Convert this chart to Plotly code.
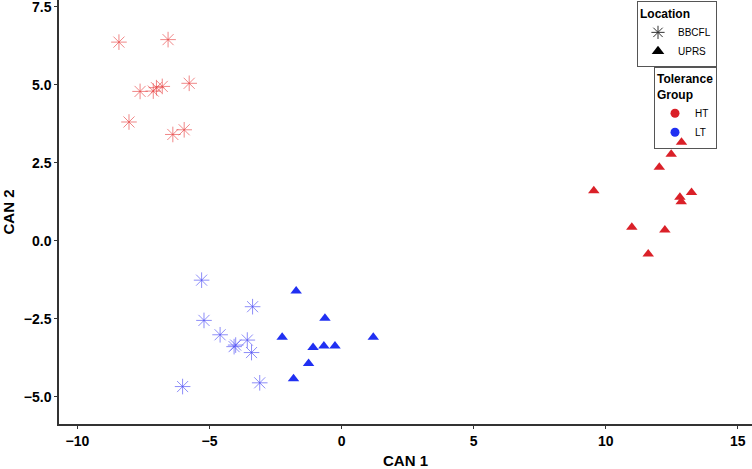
import plotly.graph_objects as go

# BBCFL (asterisk) - HT
bbcfl_ht_x = [-8.43, -6.57, -7.63, -7.13, -7.01, -6.79, -5.77, -8.05, -6.39, -5.96]
bbcfl_ht_y = [6.37, 6.45, 4.79, 4.80, 4.91, 4.95, 5.05, 3.81, 3.41, 3.56]
# BBCFL - LT
bbcfl_lt_x = [-5.30, -3.37, -5.21, -4.60, -4.01, -4.07, -3.57, -3.41, -3.10, -6.02]
bbcfl_lt_y = [-1.26, -2.11, -2.55, -3.01, -3.34, -3.39, -3.18, -3.58, -4.55, -4.67]
# UPRS (triangle) - HT
uprs_ht_x = [12.87, 12.48, 12.03, 9.55, 12.81, 13.25, 12.86, 10.99, 12.24, 11.61]
uprs_ht_y = [3.16, 2.78, 2.36, 1.61, 1.40, 1.55, 1.25, 0.44, 0.35, -0.42]
# UPRS - LT
uprs_lt_x = [-1.72, -0.63, -2.25, -1.08, -0.67, -0.25, 1.20, -1.25, -1.82]
uprs_lt_y = [-1.61, -2.48, -3.09, -3.42, -3.37, -3.37, -3.09, -3.93, -4.42]

x_ticks = [-10, -5, 0, 5, 10, 15]
y_ticks = [-5.0, -2.5, 0.0, 2.5, 5.0, 7.5]

RED = "rgb(218,32,40)"
BLUE = "rgb(32,48,242)"
RED_STAR = "rgba(232,70,70,0.65)"
BLUE_STAR = "rgba(80,80,245,0.65)"

fig = go.Figure()

def star(x, y, c):
    fig.add_trace(go.Scatter(x=x, y=y, mode="markers", showlegend=False,
                             marker=dict(symbol="asterisk-open", size=13, color=c,
                                         line=dict(color=c, width=1))))

def tri(x, y, c):
    fig.add_trace(go.Scatter(x=x, y=y, mode="markers", showlegend=False,
                             marker=dict(symbol="triangle-up", size=10, color=c,
                                         line=dict(width=0))))

star(bbcfl_ht_x, bbcfl_ht_y, RED_STAR)
star(bbcfl_lt_x, bbcfl_lt_y, BLUE_STAR)
tri(uprs_ht_x, uprs_ht_y, RED)
tri(uprs_lt_x, uprs_lt_y, BLUE)

# legend-only traces
fig.add_trace(go.Scatter(x=[None], y=[None], mode="markers", name="BBCFL", legend="legend",
                         marker=dict(symbol="asterisk-open", size=11, color="#333",
                                     line=dict(color="#333", width=1))))
fig.add_trace(go.Scatter(x=[None], y=[None], mode="markers", name="UPRS", legend="legend",
                         marker=dict(symbol="triangle-up", size=11, color="black", line=dict(width=0))))
fig.add_trace(go.Scatter(x=[None], y=[None], mode="markers", name="HT", legend="legend2",
                         marker=dict(symbol="circle", size=9, color=RED)))
fig.add_trace(go.Scatter(x=[None], y=[None], mode="markers", name="LT", legend="legend2",
                         marker=dict(symbol="circle", size=9, color=BLUE)))

axis_common = dict(showgrid=False, zeroline=False, showline=True, linecolor="#333",
                   linewidth=1.5, ticks="outside", ticklen=3, tickcolor="#333",
                   tickfont=dict(family="Liberation Sans, Arial", size=14, color="black", weight="bold"),
                   ticklabeloverflow="allow", automargin=False)

fig.update_layout(
    width=752, height=469,
    margin=dict(l=59, r=0, t=0, b=45),
    paper_bgcolor="white", plot_bgcolor="white",
    font=dict(family="Liberation Sans, Arial", color="black"),
    xaxis=dict(range=[-10.70, 15.54], tickvals=x_ticks,
               title=dict(text="<b>CAN 1</b>", font=dict(size=15), standoff=12),
               **axis_common),
    yaxis=dict(range=[-5.87, 7.72], tickvals=y_ticks, tickformat=".1f",
               title=dict(text="<b>CAN 2</b>", font=dict(size=15), standoff=10),
               **axis_common),
    legend=dict(x=0.9495, y=0.997, xanchor="right", yanchor="top",
                bordercolor="#555", borderwidth=1, bgcolor="white",
                title=dict(text="<b>Location</b>", font=dict(size=12)),
                font=dict(size=10), itemwidth=30, tracegroupgap=0),
    legend2=dict(x=0.9495, y=0.843, xanchor="right", yanchor="top",
                 bordercolor="#555", borderwidth=1, bgcolor="rgba(255,255,255,0)",
                 title=dict(text="<b>Tolerance<br>Group</b>", font=dict(size=12)),
                 font=dict(size=10), itemwidth=30, tracegroupgap=0),
)

fig.write_html("out.html", config={"displayModeBar": False},
               post_script="document.body.style.margin='0';")
